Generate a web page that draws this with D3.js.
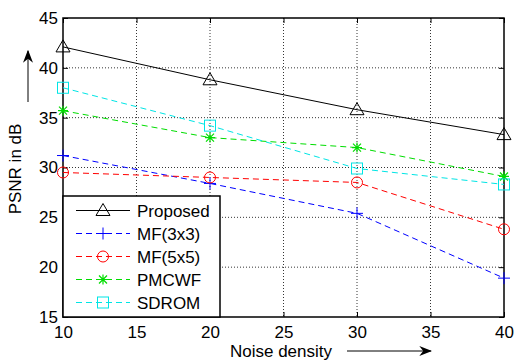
<!DOCTYPE html>
<html lang="en">
<head>
<meta charset="utf-8">
<title>PSNR vs noise density</title>
<script src="https://d3js.org/d3.v7.min.js"></script>
<style>
  body { margin: 0; background: #fff; }
  svg text { font-family: "Liberation Sans", Arial, sans-serif; fill: #000; }
</style>
</head>
<body>
<div id="chart"></div>
<script>
  // data
  var density = [10, 20, 30, 40];
  var proposed = [42.1, 38.8, 35.8, 33.3];
  var mf3 = [31.2, 28.4, 25.4, 18.9];
  var mf5 = [29.5, 29.0, 28.5, 23.8];
  var pmcwf = [35.7, 33.0, 32.0, 29.1];
  var sdrom = [38.0, 34.2, 29.9, 28.3];
  var xTicks = [10, 15, 20, 25, 30, 35, 40];
  var yTicks = [15, 20, 25, 30, 35, 40, 45];

  var series = [
    { name: "Proposed", vals: proposed, color: "#000", dash: null, mark: "tri" },
    { name: "MF(3x3)", vals: mf3, color: "#0000ff", dash: "6,4", mark: "plus" },
    { name: "MF(5x5)", vals: mf5, color: "#ff0000", dash: "6,4", mark: "circle" },
    { name: "PMCWF", vals: pmcwf, color: "#00dd00", dash: "6,4", mark: "star" },
    { name: "SDROM", vals: sdrom, color: "#00e5e5", dash: "6,4", mark: "square" }
  ];

  var W = 518, H = 360;
  var pLeft = 63, pRight = 504, pTop = 18, pBottom = 317;
  var fs = "17px";

  var svg = d3.select("#chart").append("svg")
      .attr("width", W)
      .attr("height", H);

  var x = d3.scaleLinear().domain([10, 40]).range([pLeft, pRight]);
  var y = d3.scaleLinear().domain([15, 45]).range([pBottom, pTop]);

  // grid, dotted
  svg.append("g").selectAll("line")
    .data(xTicks.slice(1, -1)).enter().append("line")
      .attr("x1", d => x(d)).attr("x2", d => x(d))
      .attr("y1", pTop).attr("y2", pBottom)
      .attr("stroke", "#000").attr("stroke-width", 0.8)
      .attr("stroke-dasharray", "1,2");
  svg.append("g").selectAll("line")
    .data(yTicks.slice(1, -1)).enter().append("line")
      .attr("x1", pLeft).attr("x2", pRight)
      .attr("y1", d => y(d)).attr("y2", d => y(d))
      .attr("stroke", "#000").attr("stroke-width", 0.8)
      .attr("stroke-dasharray", "1,2");

  // axes with inward ticks
  svg.append("g").attr("transform", "translate(0," + pBottom + ")")
    .call(d3.axisBottom(x).tickValues(xTicks).tickSize(-5).tickPadding(9));
  svg.append("g").attr("transform", "translate(" + pLeft + ",0)")
    .call(d3.axisLeft(y).tickValues(yTicks).tickSize(-5).tickPadding(5));
  svg.append("g").attr("transform", "translate(0," + pTop + ")")
    .call(d3.axisTop(x).tickValues(xTicks).tickSize(-5).tickFormat(""));
  svg.append("g").attr("transform", "translate(" + pRight + ",0)")
    .call(d3.axisRight(y).tickValues(yTicks).tickSize(-5).tickFormat(""));
  svg.selectAll(".domain").remove();
  svg.selectAll(".tick line").attr("stroke", "#000");
  svg.selectAll(".tick text").style("font-size", fs)
    .style("font-family", "Liberation Sans, Arial, sans-serif");

  svg.append("rect")
    .attr("x", pLeft).attr("y", pTop)
    .attr("width", pRight - pLeft).attr("height", pBottom - pTop)
    .attr("fill", "none").attr("stroke", "#000").attr("stroke-width", 1.5);

  // marker drawing
  function drawMark(g, type, cx, cy, color) {
    if (type == "tri") {
      g.append("path")
        .attr("d", "M" + cx + "," + (cy - 7) + "L" + (cx + 7) + "," + (cy + 5) + "L" + (cx - 7) + "," + (cy + 5) + "Z")
        .attr("fill", "none").attr("stroke", color).attr("stroke-width", 1);
    } else if (type == "plus") {
      g.append("path")
        .attr("d", "M" + (cx - 6) + "," + cy + "H" + (cx + 6) + "M" + cx + "," + (cy - 6) + "V" + (cy + 6))
        .attr("stroke", color).attr("stroke-width", 1);
    } else if (type == "circle") {
      g.append("circle").attr("cx", cx).attr("cy", cy).attr("r", 5.5)
        .attr("fill", "none").attr("stroke", color).attr("stroke-width", 1);
    } else if (type == "star") {
      g.append("path")
        .attr("d", "M" + (cx - 5) + "," + cy + "H" + (cx + 5) + "M" + cx + "," + (cy - 5) + "V" + (cy + 5) +
          "M" + (cx - 4) + "," + (cy - 4) + "L" + (cx + 4) + "," + (cy + 4) +
          "M" + (cx - 4) + "," + (cy + 4) + "L" + (cx + 4) + "," + (cy - 4))
        .attr("stroke", color).attr("stroke-width", 1.2);
    } else if (type == "square") {
      g.append("rect").attr("x", cx - 5.5).attr("y", cy - 5.5)
        .attr("width", 11).attr("height", 11)
        .attr("fill", "none").attr("stroke", color).attr("stroke-width", 1);
    }
  }

  var line = d3.line().x((d, i) => x(density[i])).y(d => y(d));

  series.forEach(function(s) {
    var g = svg.append("g");
    g.append("path").datum(s.vals)
      .attr("d", line)
      .attr("fill", "none")
      .attr("stroke", s.color)
      .attr("stroke-width", 1)
      .attr("stroke-dasharray", s.dash);
    s.vals.forEach(function(v, i) {
      drawMark(g, s.mark, x(density[i]), y(v), s.color);
    });
  });

  // legend
  var lg = svg.append("g");
  lg.append("rect")
    .attr("x", pLeft).attr("y", 196)
    .attr("width", 157).attr("height", pBottom - 196)
    .attr("fill", "#fff").attr("stroke", "#000").attr("stroke-width", 1.5);
  series.forEach(function(s, i) {
    var ly = 210.5 + i * 23;
    lg.append("line")
      .attr("x1", 76).attr("x2", 130).attr("y1", ly).attr("y2", ly)
      .attr("stroke", s.color).attr("stroke-width", 1)
      .attr("stroke-dasharray", s.dash);
    drawMark(lg, s.mark, 103, ly, s.color);
    lg.append("text")
      .attr("x", 137).attr("y", ly + 6)
      .style("font-size", fs)
      .text(s.name);
  });

  // axis labels with arrows
  svg.append("defs").append("marker")
    .attr("id", "arr").attr("viewBox", "0 0 10 10")
    .attr("refX", 9).attr("refY", 5)
    .attr("markerWidth", 13).attr("markerHeight", 10)
    .attr("markerUnits", "userSpaceOnUse")
    .attr("orient", "auto")
    .attr("preserveAspectRatio", "none")
    .append("path").attr("d", "M0,0L10,5L0,10L3,5Z").attr("fill", "#000");

  svg.append("text")
    .attr("transform", "translate(21,169) rotate(-90)")
    .attr("text-anchor", "middle")
    .style("font-size", fs)
    .text("PSNR in dB");
  svg.append("line")
    .attr("x1", 28).attr("y1", 102).attr("x2", 28).attr("y2", 51)
    .attr("stroke", "#000").attr("stroke-width", 1)
    .attr("marker-end", "url(#arr)");

  svg.append("text")
    .attr("x", 281).attr("y", 357)
    .attr("text-anchor", "middle")
    .style("font-size", fs)
    .text("Noise density");
  svg.append("line")
    .attr("x1", 347).attr("y1", 351).attr("x2", 431).attr("y2", 351)
    .attr("stroke", "#000").attr("stroke-width", 1)
    .attr("marker-end", "url(#arr)");
</script>
</body>
</html>
